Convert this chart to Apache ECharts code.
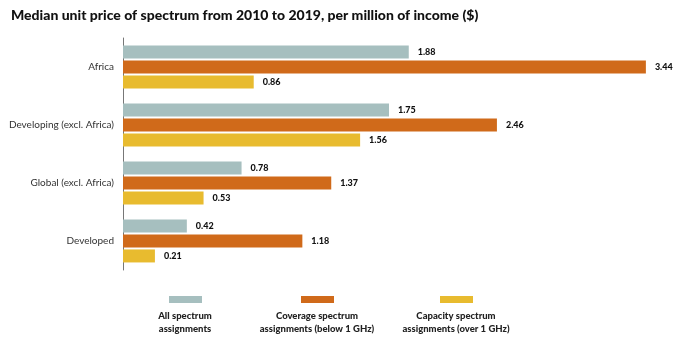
<!DOCTYPE html>
<html>
<head>
<meta charset="utf-8">
<script src="https://cdn.jsdelivr.net/npm/echarts@6/dist/echarts.min.js"></script>
<style>
  html, body { margin: 0; padding: 0; background: #fff; }
  #chart { width: 682px; height: 345px; }
</style>
</head>
<body>
<div id="chart"></div>
<script>
// Regions, listed top to bottom
const categories = ['Africa', 'Developing (excl. Africa)', 'Global (excl. Africa)', 'Developed'];

// Median unit price per million of income ($)
const allSpectrum = [1.88, 1.75, 0.78, 0.42];
const coverageSpectrum = [3.44, 2.46, 1.37, 1.18];
const capacitySpectrum = [0.86, 1.56, 0.53, 0.21];

const seriesNames = [
  'All spectrum\nassignments',
  'Coverage spectrum\nassignments (below 1 GHz)',
  'Capacity spectrum\nassignments (over 1 GHz)'
];
const colors = ['#a6bfbf', '#d06a1a', '#e8bb2f'];

const chart = echarts.init(document.getElementById('chart'));

const labelStyle = {
  show: true,
  position: 'right',
  distance: 9,
  color: '#111',
  fontFamily: 'Lato',
  fontWeight: 900,
  fontSize: 9,
  formatter: p => p.value.toFixed(2)
};

function bar(name, data, color) {
  return {
    name: name,
    type: 'bar',
    data: data,
    barWidth: 13,
    barGap: '15%',
    itemStyle: { color: color },
    label: labelStyle,
    animation: false
  };
}

// Legend: swatch above a centred two-line caption
const legendX = [185, 317, 456];
const legendGraphics = [];
seriesNames.forEach((n, i) => {
  legendGraphics.push({
    type: 'rect',
    shape: { x: legendX[i] - 16, y: 296, width: 33, height: 7 },
    style: { fill: colors[i] }
  });
  legendGraphics.push({
    type: 'text',
    x: legendX[i],
    y: 309,
    style: {
      text: n,
      textAlign: 'center',
      textVerticalAlign: 'top',
      fill: '#222',
      font: '900 9.5px Lato',
      lineHeight: 13
    }
  });
});

chart.setOption({
  backgroundColor: '#fff',
  title: {
    text: 'Median unit price of spectrum from 2010 to 2019, per million of income ($)',
    left: 6,
    top: 3,
    textStyle: { fontFamily: 'Lato', fontWeight: 900, fontSize: 14, color: '#111' }
  },
  grid: { left: 123, right: 27, top: 38, bottom: 75 },
  xAxis: {
    type: 'value',
    min: 0,
    max: 3.5,
    show: false
  },
  yAxis: {
    type: 'category',
    data: categories,
    inverse: true,
    axisLine: { show: true, lineStyle: { color: '#777', width: 1 } },
    axisTick: { show: false },
    axisLabel: { color: '#333', fontFamily: 'Lato', fontSize: 10, margin: 9 }
  },
  series: [
    bar(seriesNames[0], allSpectrum, colors[0]),
    bar(seriesNames[1], coverageSpectrum, colors[1]),
    bar(seriesNames[2], capacitySpectrum, colors[2])
  ],
  graphic: legendGraphics
});
</script>
</body>
</html>
